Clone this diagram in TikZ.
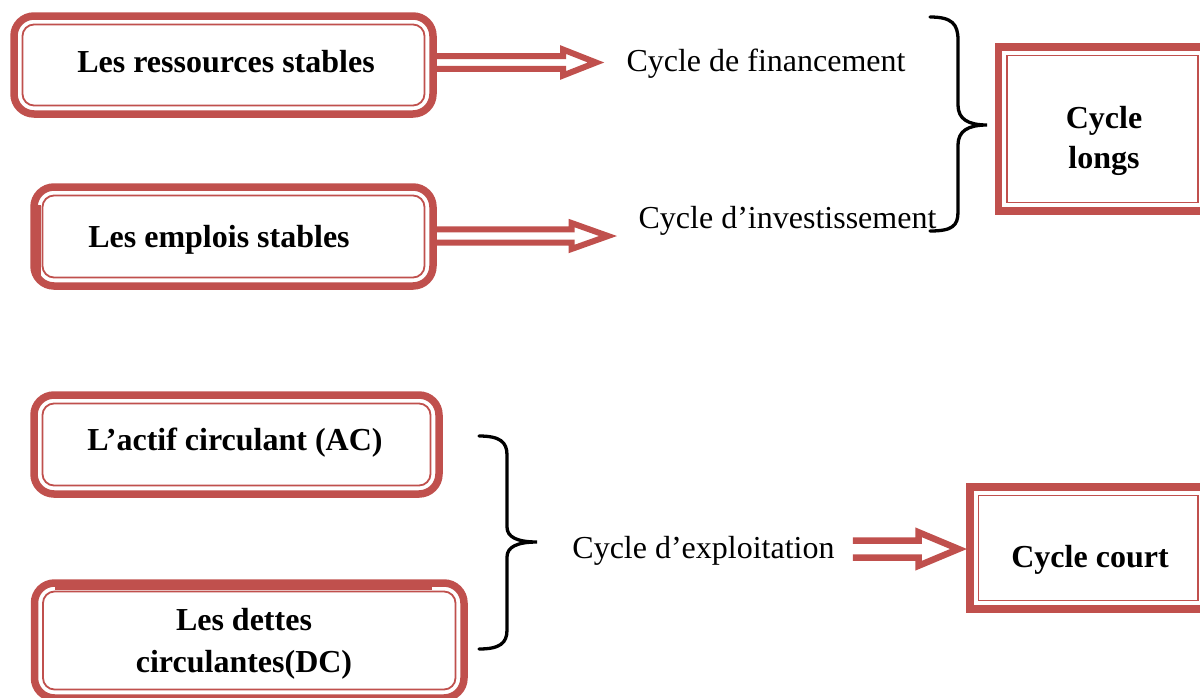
\documentclass[tikz,border=0pt]{standalone}
\usepackage{fontspec}
\setmainfont{Liberation Serif}
\usetikzlibrary{calc,backgrounds}
\definecolor{boxred}{HTML}{C0504D}
\tikzset{
  frame/.style={draw=boxred, line width=7.5pt, fill=white, inner sep=0pt, outer sep=0pt},
  rframe/.style={frame, rounded corners=20pt},
  sframe/.style={frame},
  innerline/.style={draw=boxred, line width=1.8pt},
  gapfill/.style={draw=boxred, line width=3.5pt},
  boldtxt/.style={font=\fontsize{32}{42}\selectfont\bfseries, inner sep=0pt, align=center},
  plaintxt/.style={font=\fontsize{32}{42}\selectfont, inner sep=0pt},
  blockarr/.style={draw=boxred, fill=white, line width=6pt, miter limit=20},
  bracepath/.style={draw=black, line width=3.3pt, line cap=round},
}
\newcommand\innerframe[2]{\draw[innerline,#2] ($(#1.north west)+(8.5,8.5)$) rectangle ($(#1.south east)+(-8.5,-8.5)$);}
% #1 from, #2 tip (line centre), #3 shaft half height, #4 head length, #5 head half height
\newcommand\blockarrow[6]{\draw[blockarr,#6] let \p1=(#1), \p2=(#2) in
  (\x1,\y2+#3pt) -- (\x2-#4pt,\y2+#3pt) -- (\x2-#4pt,\y2+#5pt) -- (\x2,\y2)
  -- (\x2-#4pt,\y2-#5pt) -- (\x2-#4pt,\y2-#3pt) -- (\x1,\y2-#3pt);}
\begin{document}
\begin{tikzpicture}[x=1pt,y=-1pt]
\useasboundingbox (0,0) rectangle (1200,697);

% boxes
\node[rframe, minimum width=419pt, minimum height=98pt] (res) at (223.5,65) {};
\innerframe{res}{rounded corners=11.5pt}
\node[rframe, minimum width=399pt, minimum height=99pt] (emp) at (233.5,236.5) {};
\innerframe{emp}{rounded corners=11.5pt}
\draw[gapfill] ($(emp.north west)+(5.7,18)$) -- ($(emp.south west)+(5.7,-8)$);
\node[rframe, minimum width=405pt, minimum height=99pt] (ac) at (236.5,444.5) {};
\innerframe{ac}{rounded corners=11.5pt}
\node[rframe, minimum width=429.5pt, minimum height=115pt] (dc) at (249.25,640.5) {};
\innerframe{dc}{rounded corners=11.5pt}
\draw[gapfill] ($(dc.north west)+(20.5,5.7)$) -- ($(dc.north east)+(-32,5.7)$);
\node[sframe, minimum width=208.2pt, minimum height=164pt] (longs) at (1102.4,129) {};
\innerframe{longs}{}
\node[sframe, minimum width=236.5pt, minimum height=122pt] (court) at (1088.25,548) {};
\innerframe{court}{}

% box texts
\node[boldtxt, anchor=base] (resT) at (226,72) {Les ressources stables};
\node[boldtxt, anchor=base] (empT) at (219,247) {Les emplois stables};
\node[boldtxt, anchor=base] (acT) at (235,450) {L’actif circulant (AC)};
\node[boldtxt] (dcT) at (244,643.5) {Les dettes\\circulantes(DC)};
\node[boldtxt, font=\fontsize{32}{40}\selectfont\bfseries] (longsT) at (1104,140.5) {Cycle\\longs};
\node[boldtxt, anchor=base] (courtT) at (1090,567) {Cycle court};

% plain texts
\node[plaintxt, anchor=base] (fin) at (766,71.7) {Cycle de financement};
\node[plaintxt, anchor=base] (inv) at (787.5,228.3) {Cycle d’investissement};
\node[plaintxt, anchor=base] (expl) at (703.5,558.3) {Cycle d’exploitation};

% arrow tips
\coordinate (tipA) at (596,62.5);
\coordinate (tipB) at (608,236);

\begin{pgfonlayer}{background}
\blockarrow{res.east}{tipA}{6.3}{33}{13}{}
\blockarrow{emp.east}{tipB}{6.7}{36.5}{13}{}
\blockarrow{$(expl.east)+(18,0)$}{$(court.west)+(-11.5,1)$}{8.5}{40}{16.75}{line width=6.5pt}
\end{pgfonlayer}

% braces
\draw[bracepath] (930,17) .. controls (952,17) and (958,24) .. (958,40) -- (958,105)
  .. controls (958,119) and (968,125) .. (987,125)
  .. controls (968,125) and (958,131) .. (958,145) -- (958,212)
  .. controls (958,226) and (952,231) .. (930,231);
\draw[bracepath] (479,436) .. controls (500,436) and (507,442) .. (507,455) -- (507,527)
  .. controls (507,537) and (517,542) .. (537,542)
  .. controls (517,542) and (507,547) .. (507,557) -- (507,630)
  .. controls (507,643) and (500,649) .. (479,649);
\end{tikzpicture}
\end{document}
